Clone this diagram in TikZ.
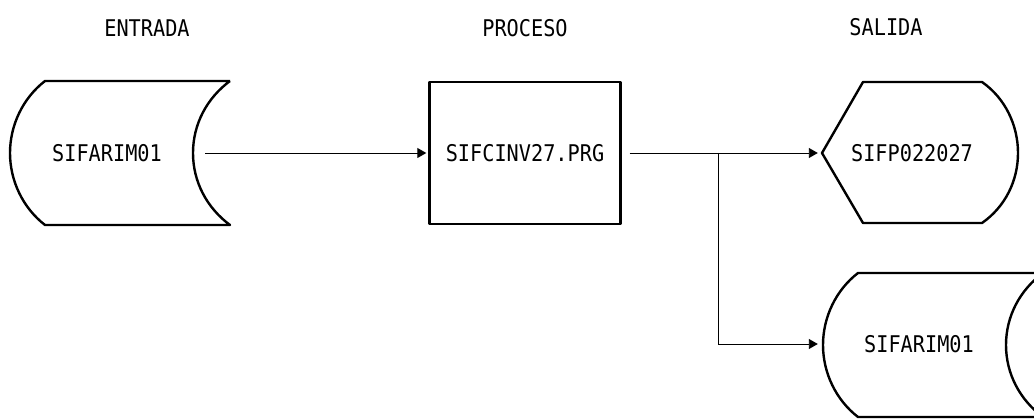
\documentclass[tikz,border=0pt]{standalone}
\usepackage{fontspec}
\newfontfamily\dotfont[FakeStretch=0.88]{DejaVu Sans Mono}
\usetikzlibrary{arrows.meta}

\begin{document}
\begin{tikzpicture}[x=1pt, y=-1pt,
    lbl/.style={font=\dotfont\fontsize{23}{27}\selectfont, inner sep=0pt},
    fig/.style={line width=2.4pt, line join=round},
    arr/.style={-{Triangle[length=9pt, width=10pt]}, line width=0.9pt}
  ]
  \clip (0,0) rectangle (1034,419);
  % Column titles.
  \node[lbl] (tin)  at (147,28) {ENTRADA};
  \node[lbl] (tpro) at (525,28) {PROCESO};
  \node[lbl] (tout) at (886,27) {SALIDA};

  % Input file (stored data).
  \node[lbl, minimum width=196, minimum height=144] (ent) at (107,153) {SIFARIM01};
  \draw[fig] (230,81) -- (45,81) .. controls (23,98) and (10,125) .. (10,153)
    .. controls (10,181) and (23,208) .. (45,225) -- (230,225)
    .. controls (207,208) and (193,182) .. (193,153)
    .. controls (193,124) and (207,98) .. (230,81);

  % Program.
  \node[lbl, draw, fig, minimum width=191, minimum height=142] (proc) at (525,153) {SIFCINV27.PRG};

  % Report (display).
  \node[lbl, minimum width=180, minimum height=141] (dsp) at (912,153) {SIFP022027};
  \draw[fig] (863,82) -- (982,82) .. controls (1005,98) and (1018,125) .. (1018,153)
    .. controls (1018,181) and (1005,207) .. (982,223) -- (863,223) -- (822,153) -- cycle;

  % Output file (stored data, cut at the right edge).
  \node[lbl, minimum width=194, minimum height=143] (sal) at (919,344) {SIFARIM01};
  \draw[fig, shift={(813,192)}] (230,81) -- (45,81) .. controls (23,98) and (10,125) .. (10,153)
    .. controls (10,181) and (23,208) .. (45,225) -- (230,225)
    .. controls (207,208) and (193,182) .. (193,153)
    .. controls (193,124) and (207,98) .. (230,81);

  \draw[arr, shorten >=2pt] (ent) -- (proc);
  \draw[arr, shorten <=8pt, shorten >=4pt] (proc) -- (dsp);
  \coordinate (br) at (718,153);
  \draw[arr, shorten >=4pt] (br) |- (sal);
\end{tikzpicture}
\end{document}
